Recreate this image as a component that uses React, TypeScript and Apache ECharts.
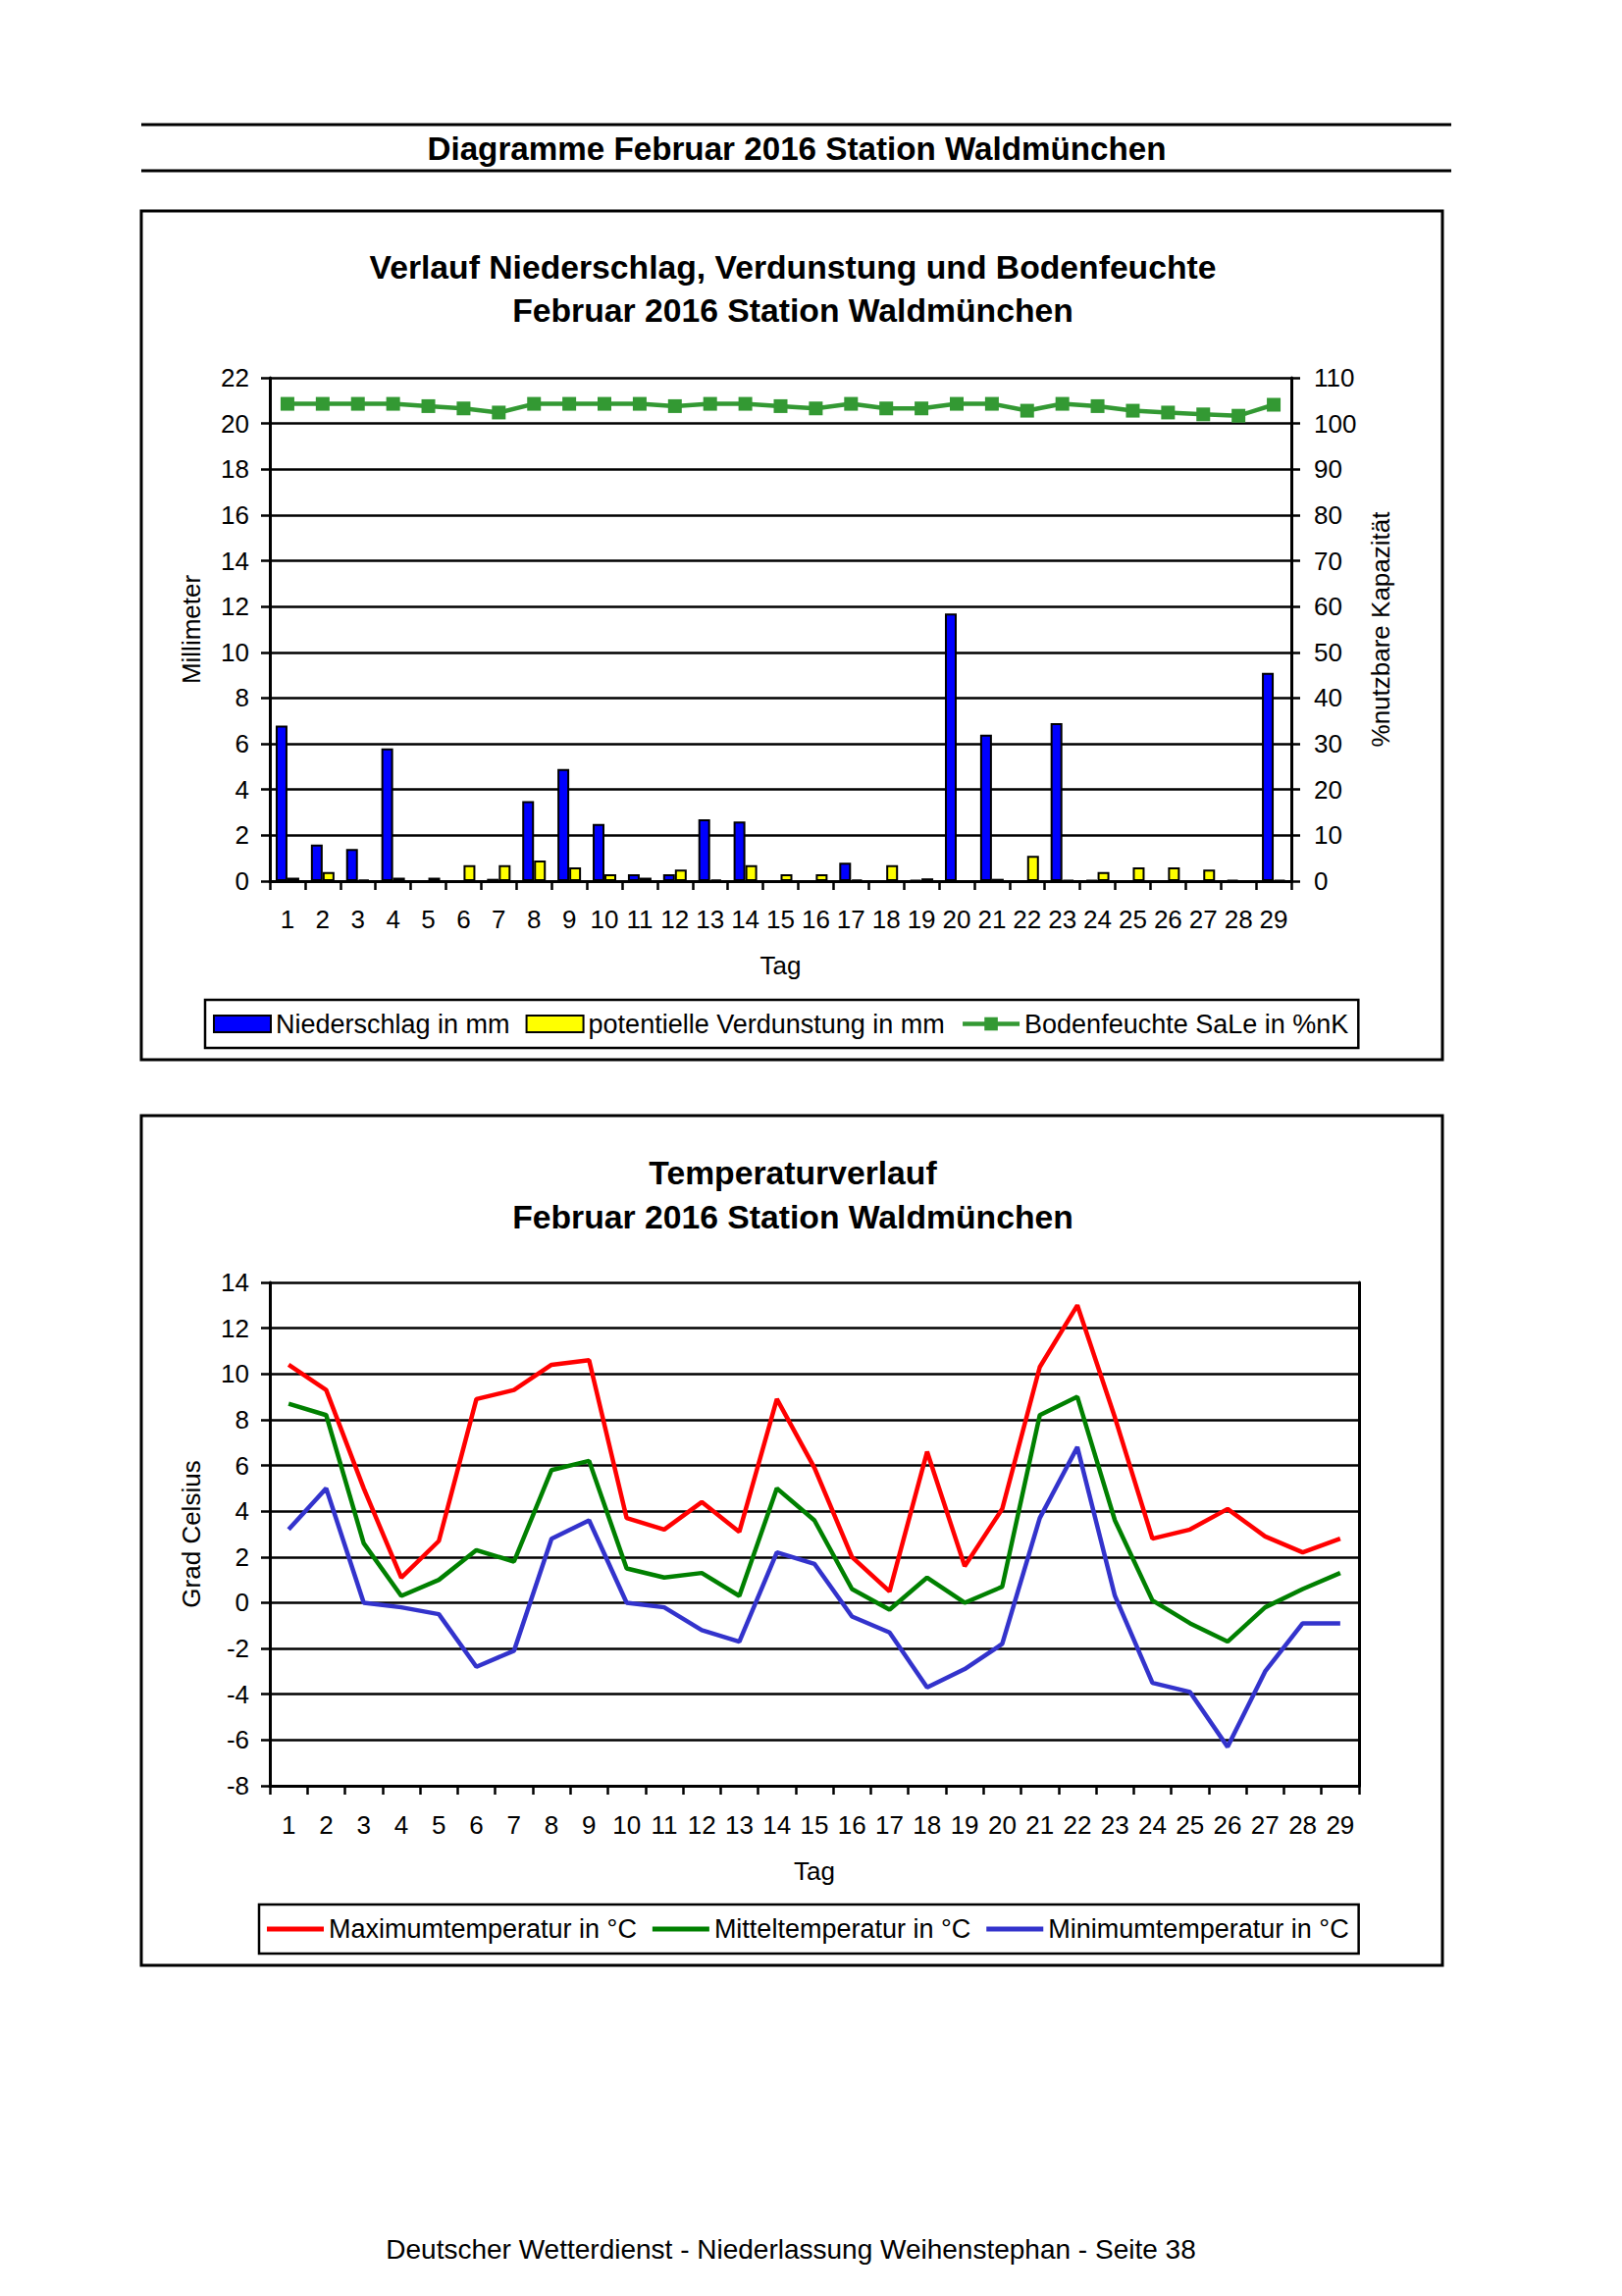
import React, { useEffect, useRef } from "react";
import * as echarts from "echarts";

const FONT = "'Liberation Sans', Arial, Helvetica, sans-serif";

const days = ["1","2","3","4","5","6","7","8","9","10","11","12","13","14","15","16","17","18","19","20","21","22","23","24","25","26","27","28","29"];

const niederschlag = [6.8,1.6,1.4,5.8,0,0,0.1,3.5,4.9,2.5,0.3,0.3,2.7,2.6,0,0,0.8,0,0.05,11.7,6.4,0,6.9,0.05,0,0,0,0.05,9.1];
const verdunstung = [0.15,0.4,0.07,0.15,0.15,0.7,0.7,0.9,0.6,0.3,0.15,0.5,0.07,0.7,0.3,0.3,0.07,0.7,0.12,0,0.1,1.1,0.05,0.4,0.6,0.6,0.5,0,0.05];
const bodenfeuchte = [104.3,104.3,104.3,104.3,103.8,103.3,102.4,104.3,104.3,104.3,104.3,103.8,104.3,104.3,103.8,103.3,104.3,103.3,103.3,104.3,104.3,102.8,104.3,103.8,102.8,102.4,102.0,101.7,104.1];

const tMax = [10.4,9.3,5.0,1.1,2.7,8.9,9.3,10.4,10.6,3.7,3.2,4.4,3.1,8.9,5.9,2.0,0.5,6.6,1.6,4.1,10.3,13.0,8.1,2.8,3.2,4.1,2.9,2.2,2.8];
const tMean = [8.7,8.2,2.6,0.3,1.0,2.3,1.8,5.8,6.2,1.5,1.1,1.3,0.3,5.0,3.6,0.6,-0.3,1.1,0.0,0.7,8.2,9.0,3.6,0.1,-0.9,-1.7,-0.2,0.6,1.3];
const tMin = [3.2,5.0,0.0,-0.2,-0.5,-2.8,-2.1,2.8,3.6,0.0,-0.2,-1.2,-1.7,2.2,1.7,-0.6,-1.3,-3.7,-2.9,-1.8,3.7,6.8,0.3,-3.5,-3.9,-6.3,-3.0,-0.9,-0.9];

const headerText = "Diagramme Februar 2016 Station Waldmünchen";
const title1a = "Verlauf Niederschlag, Verdunstung und Bodenfeuchte";
const title1b = "Februar 2016 Station Waldmünchen";
const title2a = "Temperaturverlauf";
const title2b = "Februar 2016 Station Waldmünchen";
const footerText = "Deutscher Wetterdienst - Niederlassung Weihenstephan - Seite 38";

const lblStyle = { fontSize: 26, color: "#000", fontFamily: FONT };
const legStyle = { fontSize: 27, color: "#000", fontFamily: FONT };

function xAx(gridIndex: number, nameGap: number, margin: number) {
  return {
    type: "category",
    gridIndex,
    data: days,
    boundaryGap: true,
    axisLine: { onZero: false, lineStyle: { color: "#000", width: 3 } },
    axisTick: { show: true, interval: 0, length: 9, lineStyle: { color: "#000", width: 2.5 } },
    axisLabel: { ...lblStyle, interval: 0, margin },
    splitLine: { show: false },
    name: "Tag",
    nameLocation: "middle",
    nameGap,
    nameTextStyle: lblStyle,
  };
}

const titleStyle = (text: string, size = 33.7) => ({
  text, align: "center", verticalAlign: "middle", fontSize: size, fontWeight: "bold", fontFamily: FONT, fill: "#000",
});

export default function App() {
  const ref = useRef<HTMLDivElement>(null);
  useEffect(() => {
    if (!ref.current) return;
    const chart = echarts.init(ref.current, null, { renderer: "svg" });
    const option: any = {
      animation: false,
      backgroundColor: "#fff",
      textStyle: { fontFamily: FONT, color: "#000" },
      grid: [
        { left: 275, top: 385, width: 1041, height: 513 },
        { left: 275, top: 1307, width: 1110, height: 513 },
      ],
      xAxis: [xAx(0, 73, 26), xAx(1, 74, 27)],
      yAxis: [
        {
          type: "value", gridIndex: 0, position: "left", min: 0, max: 22, interval: 2,
          axisLine: { show: true, lineStyle: { color: "#000", width: 3 } },
          axisTick: { show: true, length: 9, lineStyle: { color: "#000", width: 2.5 } },
          axisLabel: { ...lblStyle, margin: 21 },
          splitLine: { show: true, lineStyle: { color: "#000", width: 2.5 } },
          name: "Millimeter", nameLocation: "middle", nameGap: 67, nameRotate: 90, nameTextStyle: lblStyle,
        },
        {
          type: "value", gridIndex: 0, position: "right", min: 0, max: 110, interval: 10,
          axisLine: { show: true, lineStyle: { color: "#000", width: 3 } },
          axisTick: { show: true, length: 9, lineStyle: { color: "#000", width: 2.5 } },
          axisLabel: { ...lblStyle, margin: 23 },
          splitLine: { show: false },
          name: "%nutzbare Kapazität", nameLocation: "middle", nameGap: 78, nameRotate: 90, nameTextStyle: lblStyle,
        },
        {
          type: "value", gridIndex: 1, position: "left", min: -8, max: 14, interval: 2,
          axisLine: { show: true, lineStyle: { color: "#000", width: 3 } },
          axisTick: { show: true, length: 9, lineStyle: { color: "#000", width: 2.5 } },
          axisLabel: { ...lblStyle, margin: 21 },
          splitLine: { show: true, lineStyle: { color: "#000", width: 2.5 } },
          name: "Grad Celsius", nameLocation: "middle", nameGap: 67, nameRotate: 90, nameTextStyle: lblStyle,
        },
        {
          type: "value", gridIndex: 1, position: "right", min: -8, max: 14, interval: 2,
          axisLine: { show: true, lineStyle: { color: "#000", width: 3 } },
          axisTick: { show: false },
          axisLabel: { show: false },
          splitLine: { show: false },
        },
      ],
      legend: [
        {
          data: [
            { name: "Niederschlag in mm", icon: "rect" },
            { name: "potentielle Verdunstung in mm", icon: "rect" },
            { name: "Bodenfeuchte SaLe in %nK" },
          ],
          left: 209, top: 1019, orient: "horizontal",
          borderColor: "#000", borderWidth: 2.5, borderRadius: 0,
          padding: [11, 10, 11, 8], itemGap: 16, itemWidth: 58, itemHeight: 17,
          lineStyle: { width: 4.5 },
          textStyle: legStyle, selectedMode: false,
        },
        {
          data: [
            { name: "Maximumtemperatur in °C", icon: "rect", itemStyle: { color: "#ff0000" } },
            { name: "Mitteltemperatur in °C", icon: "rect", itemStyle: { color: "#008000" } },
            { name: "Minimumtemperatur in °C", icon: "rect", itemStyle: { color: "#3333cc" } },
          ],
          left: 264, top: 1941, orient: "horizontal",
          borderColor: "#000", borderWidth: 2.5, borderRadius: 0,
          padding: [11, 10, 11, 8], itemGap: 16, itemWidth: 58, itemHeight: 5,
          textStyle: { ...legStyle, lineHeight: 28 }, selectedMode: false,
        },
      ],
      series: [
        {
          name: "Niederschlag in mm", type: "bar", xAxisIndex: 0, yAxisIndex: 0, data: niederschlag,
          barWidth: 12, barGap: "0%",
          itemStyle: { color: "#0000ff", borderColor: "#000", borderWidth: 2 },
        },
        {
          name: "potentielle Verdunstung in mm", type: "bar", xAxisIndex: 0, yAxisIndex: 0, data: verdunstung,
          barWidth: 12, barGap: "0%",
          itemStyle: { color: "#ffff00", borderColor: "#000", borderWidth: 2 },
        },
        {
          name: "Bodenfeuchte SaLe in %nK", type: "line", xAxisIndex: 0, yAxisIndex: 1, data: bodenfeuchte,
          symbol: "rect", symbolSize: 14, color: "#339933",
          lineStyle: { color: "#339933", width: 4.5 },
          itemStyle: { color: "#339933" },
        },
        {
          name: "Maximumtemperatur in °C", type: "line", xAxisIndex: 1, yAxisIndex: 2, data: tMax,
          symbol: "none", color: "#ff0000", lineStyle: { color: "#ff0000", width: 4.5 },
        },
        {
          name: "Mitteltemperatur in °C", type: "line", xAxisIndex: 1, yAxisIndex: 2, data: tMean,
          symbol: "none", color: "#008000", lineStyle: { color: "#008000", width: 4.5 },
        },
        {
          name: "Minimumtemperatur in °C", type: "line", xAxisIndex: 1, yAxisIndex: 2, data: tMin,
          symbol: "none", color: "#3333cc", lineStyle: { color: "#3333cc", width: 4.5 },
        },
      ],
      graphic: [
        { type: "line", shape: { x1: 144, y1: 127, x2: 1479, y2: 127 }, style: { stroke: "#000", lineWidth: 3 } },
        { type: "line", shape: { x1: 144, y1: 174, x2: 1479, y2: 174 }, style: { stroke: "#000", lineWidth: 3 } },
        { type: "text", x: 812, y: 151, style: titleStyle(headerText, 33.2) },
        { type: "rect", shape: { x: 144, y: 215, width: 1326, height: 865 }, style: { fill: "none", stroke: "#000", lineWidth: 3 } },
        { type: "rect", shape: { x: 144, y: 1137, width: 1326, height: 866 }, style: { fill: "none", stroke: "#000", lineWidth: 3 } },
        { type: "text", x: 808, y: 272, style: titleStyle(title1a) },
        { type: "text", x: 808, y: 316, style: titleStyle(title1b) },
        { type: "text", x: 808, y: 1195, style: titleStyle(title2a) },
        { type: "text", x: 808, y: 1240, style: titleStyle(title2b) },
        { type: "text", x: 806, y: 2292, style: { text: footerText, align: "center", verticalAlign: "middle", fontSize: 28, fontFamily: FONT, fill: "#000" } },
      ],
    };
    chart.setOption(option);
    return () => chart.dispose();
  }, []);
  return (
    <div
      ref={ref}
      style={{ position: "absolute", left: 0, top: 0, width: 1653, height: 2340, background: "#fff" }}
    />
  );
}
